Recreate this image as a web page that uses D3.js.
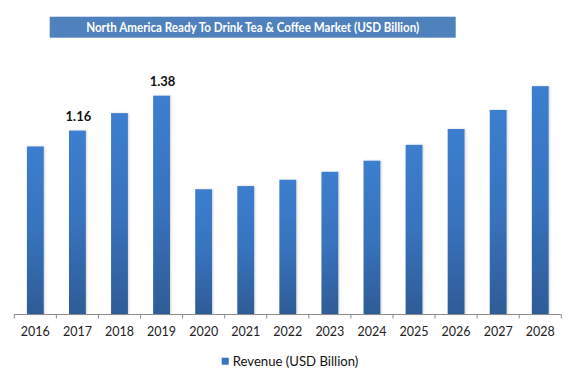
<!DOCTYPE html>
<html><head><meta charset="utf-8">
<script src="https://cdn.jsdelivr.net/npm/d3@7"></script>
<style>body{margin:0;background:#fff}svg{display:block}</style>
</head><body>
<script>
const years = ["2016","2017","2018","2019","2020","2021","2022","2023","2024","2025","2026","2027","2028"];
const revenue = [1.06,1.16,1.27,1.38,0.79,0.81,0.85,0.90,0.97,1.07,1.17,1.29,1.44];
const labeledYears = ["2017","2019"];
const titleText = "North America Ready To Drink Tea & Coffee Market (USD Billion)";
const seriesName = "Revenue (USD Billion)";

const W = 588, H = 379;
const svg = d3.select("body").append("svg").attr("width", W).attr("height", H);
const defs = svg.append("defs");
const grad = defs.append("linearGradient").attr("id","bg").attr("x1",0).attr("y1",0).attr("x2",0).attr("y2",1);
grad.append("stop").attr("offset","0%").attr("stop-color","#3c7ecf");
grad.append("stop").attr("offset","50%").attr("stop-color","#3873bd");
grad.append("stop").attr("offset","100%").attr("stop-color","#2e5c96");
const f = defs.append("filter").attr("id","sh").attr("x","-30%").attr("y","-5%").attr("width","160%").attr("height","110%");
f.append("feDropShadow").attr("dx",1).attr("dy",0).attr("stdDeviation",1.2).attr("flood-color","#000").attr("flood-opacity",0.18);

const x0 = 14.3, x1 = 561.3, base = 314.5;
const x = d3.scaleBand().domain(years).range([x0, x1]).paddingInner(0.6).paddingOuter(0.3);
const y = d3.scaleLinear().domain([0, 1.6]).range([base, base - 1.6 * 158.55]);

// title
svg.append("rect").attr("x",49.7).attr("y",16.7).attr("width",406).attr("height",21).attr("fill","#4f81bd");
svg.append("text").attr("x",252.7).attr("y",31.5).attr("text-anchor","middle")
  .attr("font-family","Lato, 'Open Sans', sans-serif").attr("font-weight","bold").attr("font-size",13)
  .attr("fill","#fff").attr("textLength",333).attr("lengthAdjust","spacingAndGlyphs").text(titleText);

// bars
svg.append("g").selectAll("rect").data(years).join("rect")
  .attr("x", d => x(d)).attr("width", x.bandwidth())
  .attr("y", (d,i) => y(revenue[i])).attr("height", (d,i) => base - y(revenue[i]))
  .attr("fill","url(#bg)").attr("filter","url(#sh)");

// data labels
svg.append("g").selectAll("text").data(years.filter(d => labeledYears.includes(d))).join("text")
  .attr("x", d => x(d) + x.bandwidth()/2 + 1)
  .attr("y", d => y(revenue[years.indexOf(d)]) - 9.5)
  .attr("text-anchor","middle").attr("font-family","Lato, 'Open Sans', sans-serif")
  .attr("font-weight","bold").attr("font-size",13).attr("fill","#111")
  .text(d => revenue[years.indexOf(d)].toFixed(2));

// axis
const ax = svg.append("g");
ax.append("line").attr("x1",x0).attr("x2",x1).attr("y1",base).attr("y2",base).attr("stroke","#8c8c8c").attr("stroke-width",1);
const edges = years.map((d,i) => x0 + i * x.step()).concat([x1]);
ax.selectAll("line.t").data(edges).join("line").attr("class","t")
  .attr("x1", d => d).attr("x2", d => d).attr("y1", base).attr("y2", base + 4)
  .attr("stroke","#8c8c8c").attr("stroke-width",1);
ax.selectAll("text").data(years).join("text")
  .attr("x", d => x(d) + x.bandwidth()/2).attr("y", 336)
  .attr("text-anchor","middle").attr("font-family","Lato, 'Open Sans', sans-serif")
  .attr("font-size",12.5).attr("fill","#222").text(d => d);

// legend
svg.append("rect").attr("x",221.7).attr("y",357.7).attr("width",7).attr("height",7).attr("fill","#3873bd");
svg.append("text").attr("x",232.7).attr("y",365.5).attr("font-family","Lato, 'Open Sans', sans-serif")
  .attr("font-size",13).attr("fill","#111").attr("textLength",125.7).attr("lengthAdjust","spacingAndGlyphs").text(seriesName);
</script>
</body></html>
